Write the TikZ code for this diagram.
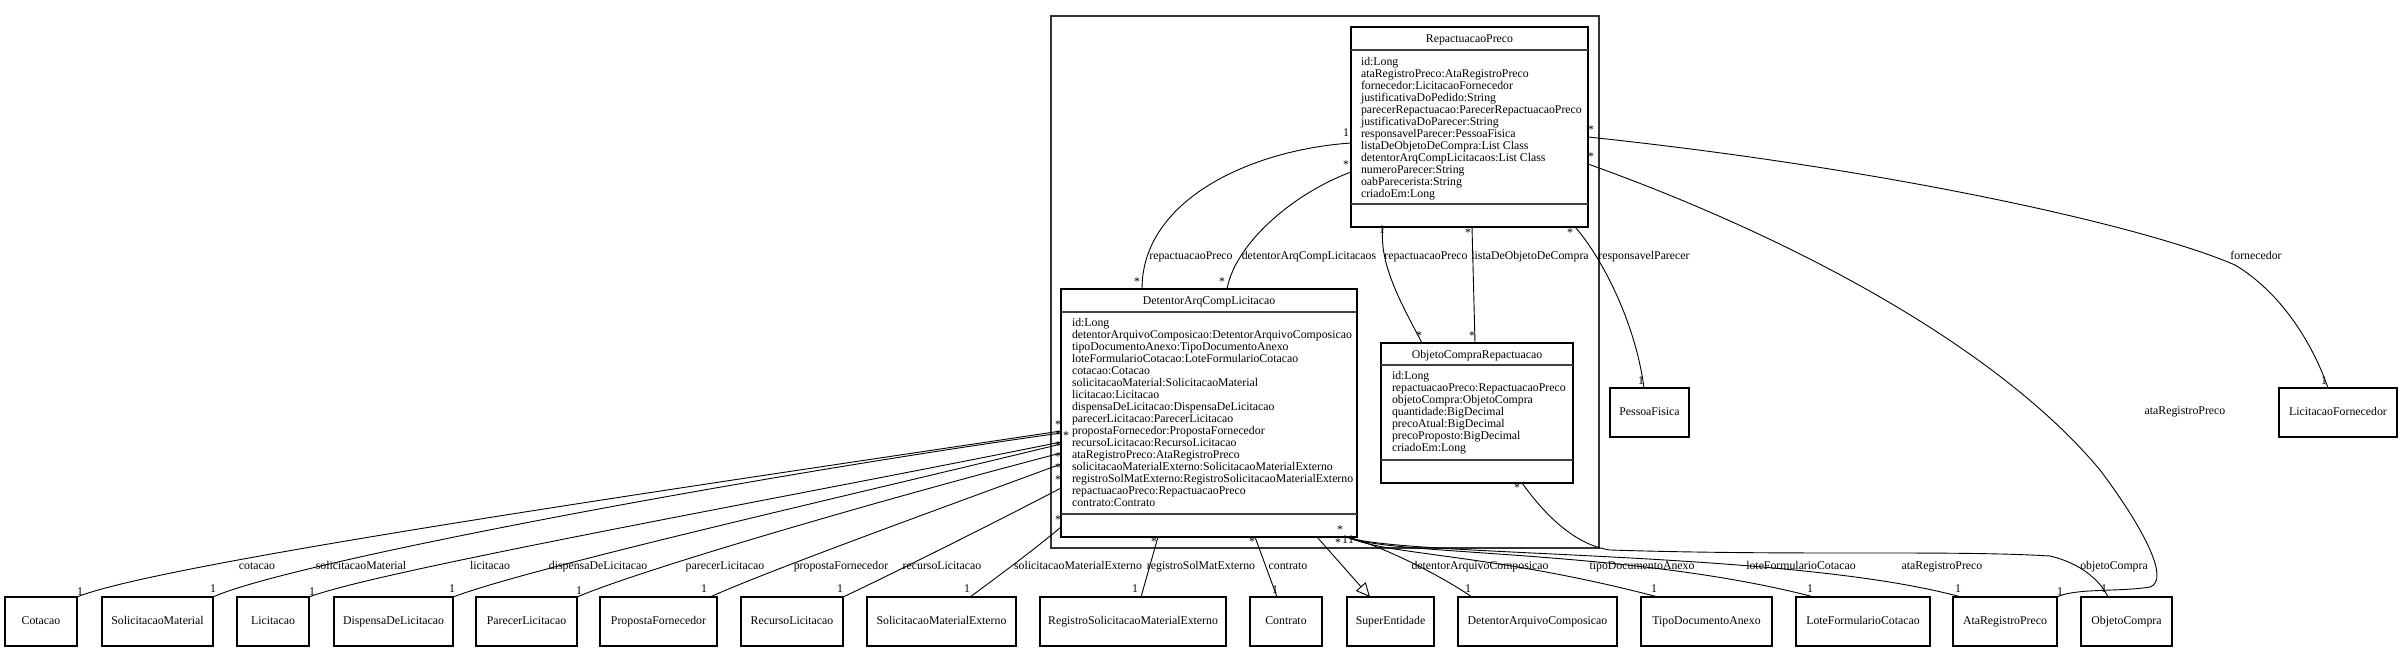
\documentclass[tikz,border=0pt]{standalone}
\usepackage{fontspec}
\setmainfont{Liberation Serif}
\usetikzlibrary{arrows.meta}
\begin{document}
\begin{tikzpicture}[x=1pt,y=-1pt,
  every node/.style={font=\fontsize{11.8}{12}\selectfont, inner sep=0pt, outer sep=0pt},
  cls/.style={draw, line width=1.2pt},
  simple/.style={draw, line width=1.2pt, minimum height=49pt, text height=8pt, text depth=2.5pt},
  assoc/.style={line width=0.9pt},
  sepline/.style={line width=1.4pt, draw=black!75},
  lbl/.style={text height=8pt, text depth=2.5pt},
  mult/.style={text height=8pt, text depth=2.5pt},
  attr/.style={anchor=north west, align=left},
  ttl/.style={anchor=base},
  gen/.style={line width=0.9pt, -{Triangle[open, length=14pt, width=13pt, fill=white]}}
]
\useasboundingbox (0,0) rectangle (2403,652);
\fill[white] (0,0) rectangle (2403,652);

% package frame
\draw[line width=1.3pt, draw=black!80] (1051,16) rectangle (1599,548);

% class boxes
\node[cls, minimum width=237pt, minimum height=200pt] (rp) at (1469.5,127) {};
\draw[sepline] ([yshift=-23pt]rp.north west) -- ([yshift=-23pt]rp.north east);
\draw[sepline] ([yshift=23pt]rp.south west) -- ([yshift=23pt]rp.south east);
\node[ttl] (rpt) at (1469.5,42.5) {RepactuacaoPreco};
\node[attr] (rpa) at (1361,57) {id:Long\\ataRegistroPreco:AtaRegistroPreco\\fornecedor:LicitacaoFornecedor\\justificativaDoPedido:String\\parecerRepactuacao:ParecerRepactuacaoPreco\\justificativaDoParecer:String\\responsavelParecer:PessoaFisica\\listaDeObjetoDeCompra:List Class\\detentorArqCompLicitacaos:List Class\\numeroParecer:String\\oabParecerista:String\\criadoEm:Long};

\node[cls, minimum width=296pt, minimum height=248pt] (det) at (1209,413) {};
\draw[sepline] ([yshift=-23pt]det.north west) -- ([yshift=-23pt]det.north east);
\draw[sepline] ([yshift=23pt]det.south west) -- ([yshift=23pt]det.south east);
\node[ttl] (dett) at (1209,304.5) {DetentorArqCompLicitacao};
\node[attr] (deta) at (1072,318) {id:Long\\detentorArquivoComposicao:DetentorArquivoComposicao\\tipoDocumentoAnexo:TipoDocumentoAnexo\\loteFormularioCotacao:LoteFormularioCotacao\\cotacao:Cotacao\\solicitacaoMaterial:SolicitacaoMaterial\\licitacao:Licitacao\\dispensaDeLicitacao:DispensaDeLicitacao\\parecerLicitacao:ParecerLicitacao\\propostaFornecedor:PropostaFornecedor\\recursoLicitacao:RecursoLicitacao\\ataRegistroPreco:AtaRegistroPreco\\solicitacaoMaterialExterno:SolicitacaoMaterialExterno\\registroSolMatExterno:RegistroSolicitacaoMaterialExterno\\repactuacaoPreco:RepactuacaoPreco\\contrato:Contrato};

\node[cls, minimum width=192pt, minimum height=140pt] (ocr) at (1477,413) {};
\draw[sepline] ([yshift=-22pt]ocr.north west) -- ([yshift=-22pt]ocr.north east);
\draw[sepline] ([yshift=23pt]ocr.south west) -- ([yshift=23pt]ocr.south east);
\node[ttl] (ocrt) at (1477,358) {ObjetoCompraRepactuacao};
\node[attr] (ocra) at (1392,371) {id:Long\\repactuacaoPreco:RepactuacaoPreco\\objetoCompra:ObjetoCompra\\quantidade:BigDecimal\\precoAtual:BigDecimal\\precoProposto:BigDecimal\\criadoEm:Long};

% simple boxes
\node[simple, minimum width=79pt] (pf) at (1649.5,412.5) {PessoaFisica};
\node[simple, minimum width=118pt] (lf) at (2338,412.5) {LicitacaoFornecedor};

\node[simple, minimum width=72pt] (cot) at (41,621.5) {Cotacao};
\node[simple, minimum width=111pt] (sm) at (157.5,621.5) {SolicitacaoMaterial};
\node[simple, minimum width=72pt] (lic) at (273,621.5) {Licitacao};
\node[simple, minimum width=119pt] (dis) at (393.5,621.5) {DispensaDeLicitacao};
\node[simple, minimum width=101pt] (par) at (526.5,621.5) {ParecerLicitacao};
\node[simple, minimum width=117pt] (pro) at (658.5,621.5) {PropostaFornecedor};
\node[simple, minimum width=102pt] (rec) at (792,621.5) {RecursoLicitacao};
\node[simple, minimum width=149pt] (sme) at (941.5,621.5) {SolicitacaoMaterialExterno};
\node[simple, minimum width=186pt] (rsm) at (1133,621.5) {RegistroSolicitacaoMaterialExterno};
\node[simple, minimum width=72pt] (con) at (1286,621.5) {Contrato};
\node[simple, minimum width=87pt] (sup) at (1390.5,621.5) {SuperEntidade};
\node[simple, minimum width=159pt] (dac) at (1537.5,621.5) {DetentorArquivoComposicao};
\node[simple, minimum width=131pt] (tda) at (1706.5,621.5) {TipoDocumentoAnexo};
\node[simple, minimum width=134pt] (lfc) at (1863,621.5) {LoteFormularioCotacao};
\node[simple, minimum width=104pt] (arp) at (2005,621.5) {AtaRegistroPreco};
\node[simple, minimum width=91pt] (oc) at (2126.5,621.5) {ObjetoCompra};

% connectors: Det -> left bottom boxes
\draw[assoc] ([yshift=-142pt]det.north west) .. controls (700,485) and (160,563) .. (cot.north east);
\draw[assoc] ([yshift=-144pt]det.north west) .. controls (760,475) and (290,562) .. (sm.north east);
\draw[assoc] ([yshift=-153pt]det.north west) .. controls (800,495) and (380,570) .. (lic.north east);
\draw[assoc] ([yshift=-155pt]det.north west) .. controls (830,500) and (530,568) .. (dis.north east);
\draw[assoc] ([yshift=-164pt]det.north west) .. controls (880,500) and (640,570) .. (par.north east);
\draw[assoc] ([yshift=-175pt]det.north west) .. controls (950,505) and (770,570) .. ([xshift=-7pt]pro.north east);
\draw[assoc] ([yshift=-199pt]det.north west) .. controls (1000,520) and (890,575) .. (rec.north east);
\draw[assoc] ([yshift=-238pt]det.north west) .. controls (1040,545) and (1000,575) .. ([xshift=-46pt]sme.north east);

% Det bottom
\draw[assoc] ([xshift=97pt]det.south west) -- ([xshift=8pt]rsm.north);
\draw[assoc] ([xshift=194pt]det.south west) -- ([xshift=-9pt]con.north);
\draw[gen] ([xshift=-40pt]det.south east) -- ([xshift=-20.5pt]sup.north);
\draw[assoc] ([xshift=-10pt]det.south east) .. controls (1380,545) and (1440,575) .. ([xshift=14pt]dac.north west);
\draw[assoc] ([xshift=-10pt]det.south east) .. controls (1390,556) and (1490,553) .. ([xshift=17pt]tda.north west);
\draw[assoc] ([xshift=-10pt]det.south east) .. controls (1390,556) and (1630,549) .. ([xshift=18pt]lfc.north west);
\draw[assoc] ([xshift=-10pt]det.south east) .. controls (1400,557) and (1790,550) .. ([xshift=8pt]arp.north west);

% OCR -> ObjetoCompra
\draw[assoc] ([xshift=141pt]ocr.south west) .. controls (1545,515) and (1575,545) .. (1610,550) .. controls (1800,556) and (1950,550) .. (2050,556) .. controls (2080,563) and (2100,580) .. ([xshift=27pt]oc.north west);

% Rep -> AtaRegistroPreco
\draw[assoc] ([yshift=-137pt]rp.north east) .. controls (1800,240) and (2000,350) .. (2100,470) .. controls (2145,530) and (2170,580) .. (2150,587) .. controls (2120,592) and (2075,588) .. (arp.north east);

% Rep -> LicitacaoFornecedor
\draw[assoc] ([yshift=-110pt]rp.north east) .. controls (1900,170) and (2150,228) .. (2235,265) .. controls (2285,295) and (2315,350) .. ([xshift=49pt]lf.north west);

% Rep -> PessoaFisica
\draw[assoc] ([xshift=-13pt]rp.south east) .. controls (1600,255) and (1635,320) .. ([xshift=34pt]pf.north west);

% Rep -> OCR
\draw[assoc] ([xshift=32pt]rp.south west) .. controls (1378,265) and (1405,310) .. ([xshift=41pt]ocr.north west);
\draw[assoc] ([xshift=121pt]rp.south west) -- ([xshift=94pt]ocr.north west);

% Rep -> Det
\draw[assoc] ([yshift=-116pt]rp.north west) .. controls (1250,150) and (1142,200) .. ([xshift=81pt]det.north west);
\draw[assoc] ([yshift=-145pt]rp.north west) .. controls (1290,195) and (1235,245) .. ([xshift=166pt]det.north west);

% edge labels
\node[lbl] (l1) at (1191,257) {repactuacaoPreco};
\node[lbl] (l2) at (1309,257) {detentorArqCompLicitacaos};
\node[lbl] (l3) at (1426,257) {repactuacaoPreco};
\node[lbl] (l4) at (1530,257) {listaDeObjetoDeCompra};
\node[lbl] (l5) at (1644,257) {responsavelParecer};
\node[lbl] (l6) at (2256,257) {fornecedor};
\node[lbl] (l7) at (2185,412) {ataRegistroPreco};
\node[lbl] (b1) at (257,567) {cotacao};
\node[lbl] (b2) at (361,567) {solicitacaoMaterial};
\node[lbl] (b3) at (490,567) {licitacao};
\node[lbl] (b4) at (598,567) {dispensaDeLicitacao};
\node[lbl] (b5) at (725,567) {parecerLicitacao};
\node[lbl] (b6) at (841,567) {propostaFornecedor};
\node[lbl] (b7) at (942,567) {recursoLicitacao};
\node[lbl] (b8) at (1078,567) {solicitacaoMaterialExterno};
\node[lbl] (b9) at (1201,567) {registroSolMatExterno};
\node[lbl] (b10) at (1288,567) {contrato};
\node[lbl] (b11) at (1480,567) {detentorArquivoComposicao};
\node[lbl] (b12) at (1642,567) {tipoDocumentoAnexo};
\node[lbl] (b13) at (1801,567) {loteFormularioCotacao};
\node[lbl] (b14) at (1942,567) {ataRegistroPreco};
\node[lbl] (b15) at (2114,567) {objetoCompra};

% multiplicities: *
\node[mult] (s1) at (1346,166) {*};
\node[mult] (s2) at (1591,131) {*};
\node[mult] (s3) at (1591,158) {*};
\node[mult] (s4) at (1468,234) {*};
\node[mult] (s5) at (1570,234) {*};
\node[mult] (s6) at (1137,283) {*};
\node[mult] (s7) at (1222,283) {*};
\node[mult] (s8) at (1419,337) {*};
\node[mult] (s9) at (1472,337) {*};
\node[mult] (s10) at (1517,489) {*};
\node[mult] (s11) at (1058,426) {*};
\node[mult] (s12) at (1058,436) {*};
\node[mult] (s13) at (1066,437) {*};
\node[mult] (s14) at (1058,447) {*};
\node[mult] (s15) at (1058,458) {*};
\node[mult] (s16) at (1058,469) {*};
\node[mult] (s17) at (1058,481) {*};
\node[mult] (s18) at (1058,521) {*};
\node[mult] (s19) at (1154,543) {*};
\node[mult] (s20) at (1252,543) {*};
\node[mult] (s21) at (1340,531) {*};
\node[mult] (s22) at (1338,544) {*};

% multiplicities: 1
\node[mult] (o1) at (1346,134) {1};
\node[mult] (o2) at (1382,231) {1};
\node[mult] (o3) at (1641,382) {1};
\node[mult] (o4) at (2324,382) {1};
\node[mult] (o5) at (1345,541) {1};
\node[mult] (o6) at (1351,541) {1};
\node[mult] (o7) at (80,593) {1};
\node[mult] (o8) at (213,590) {1};
\node[mult] (o9) at (312,593) {1};
\node[mult] (o10) at (452,590) {1};
\node[mult] (o11) at (579,592) {1};
\node[mult] (o12) at (704,590) {1};
\node[mult] (o13) at (840,590) {1};
\node[mult] (o14) at (967,590) {1};
\node[mult] (o15) at (1135,590) {1};
\node[mult] (o16) at (1275,591) {1};
\node[mult] (o17) at (1468,590) {1};
\node[mult] (o18) at (1654,590) {1};
\node[mult] (o19) at (1810,590) {1};
\node[mult] (o20) at (1958,590) {1};
\node[mult] (o21) at (2060,593) {1};
\node[mult] (o22) at (2104,590) {1};
\end{tikzpicture}
\end{document}
